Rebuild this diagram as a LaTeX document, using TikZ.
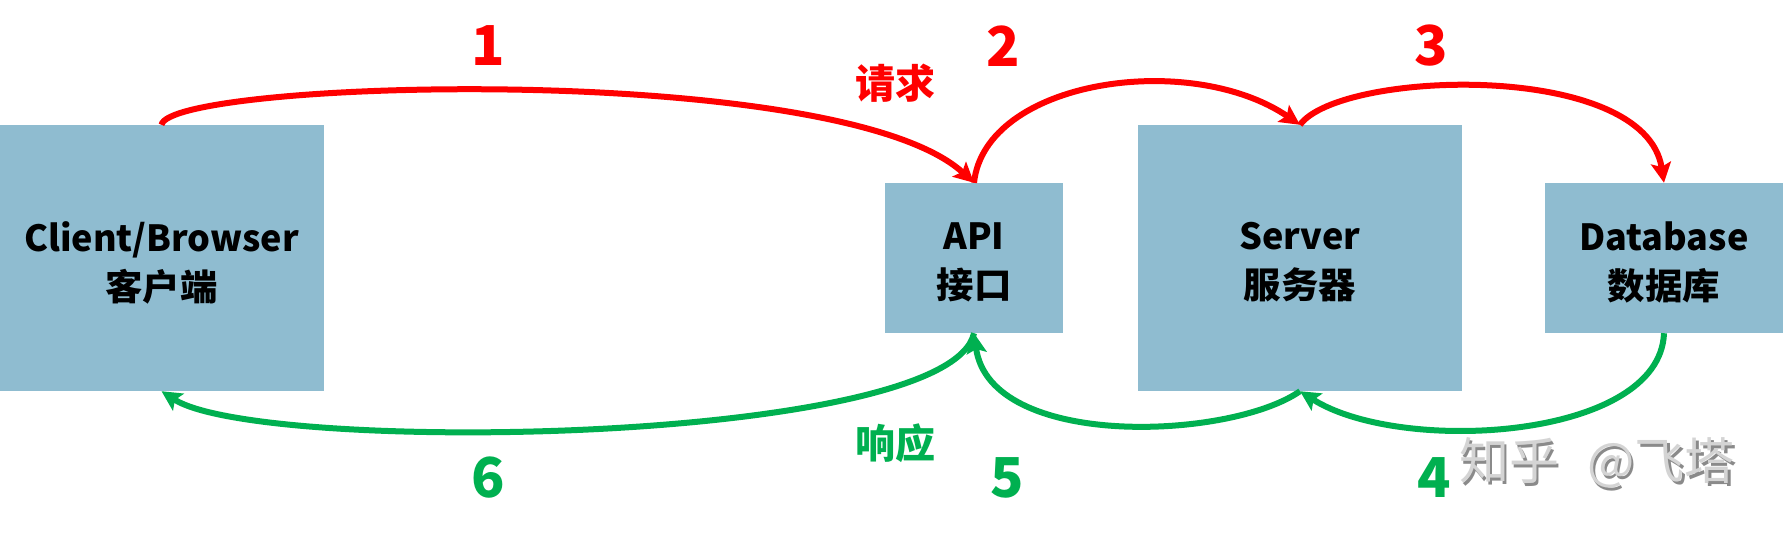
\documentclass[tikz,border=0pt]{standalone}
\usepackage{fontspec}
\usetikzlibrary{arrows.meta}
\newfontfamily\boxfont{Noto Sans CJK SC}[FakeStretch=1.04]
\newfontfamily\boxlat{Noto Sans CJK SC}
\newfontfamily\lblfont{Noto Sans CJK SC}
\newfontfamily\numfont{Noto Sans CJK SC}
\newfontfamily\wmfont{Noto Sans CJK SC}
\definecolor{boxblue}{HTML}{8FBCD0}
\definecolor{reqred}{HTML}{FF0000}
\definecolor{resgreen}{HTML}{00B050}
\definecolor{wmfront}{HTML}{D4D4D4}
\definecolor{wmback}{HTML}{8A8A8A}
\begin{document}
\begin{tikzpicture}[x=1pt,y=-1pt,
  block/.style={fill=boxblue, draw=none, inner sep=0pt},
  boxtext/.style={inner sep=0pt, align=center,
    font=\boxfont\bfseries\fontsize{36}{49}\selectfont},
  wide/.style={minimum width=324pt, minimum height=266pt},
  small/.style={minimum width=178pt, minimum height=150pt},
  req/.style={draw=reqred, line width=6pt, -{Stealth[length=20pt,width=20pt,inset=4pt]}},
  res/.style={draw=resgreen, line width=6pt, -{Stealth[length=20pt,width=20pt,inset=4pt]}},
  num/.style={font=\numfont\bfseries\fontsize{55}{55}\selectfont, inner sep=0pt},
  lbl/.style={font=\lblfont\bfseries\fontsize{40}{40}\selectfont, inner sep=0pt},
  wm/.style={font=\wmfont\fontsize{50}{50}\selectfont, inner sep=0pt},
]
\useasboundingbox (0,0) rectangle (1783,538);
\node[block, wide] (client) at (161.5,258) {};
\node[block, small] (api) at (974,258) {};
\node[block, wide] (server) at (1300,258) {};
\node[block, minimum width=238pt, minimum height=150pt] (db) at (1664,258) {};

\node[boxtext] (clienttxt) at ([yshift=-4.5pt]client.center) {{\boxlat Client/Browser}\\客户端};
\node[boxtext] (apitxt) at ([yshift=-4.5pt]api.center) {{\boxlat API}\\接口};
\node[boxtext] (servertxt) at ([yshift=-4.5pt]server.center) {{\boxlat Server}\\服务器};
\node[boxtext] (dbtxt) at ([yshift=-4.5pt]db.center) {{\boxlat Database}\\数据库};

% request arrows
\draw[req] (client.north) .. controls (170,80) and (840,60) .. (api.north);
\draw[req] (api.north) .. controls (985,80) and (1190,50) .. (server.north);
\draw[req] (server.north) .. controls (1340,70) and (1645,60) .. (db.north);
% response arrows
\draw[res] (db.south) .. controls (1660,440) and (1400,455) .. (server.south);
\draw[res] (server.south) .. controls (1230,440) and (990,450) .. (api.south);
\draw[res] (api.south) .. controls (950,445) and (260,455) .. (client.south);

% labels
\node[num, text=reqred] (n1) at (488,46) {1};
\node[num, text=reqred] (n2) at (1003,46) {2};
\node[num, text=reqred] (n3) at (1431,46) {3};
\node[num, text=resgreen] (n6) at (488,478) {6};
\node[num, text=resgreen] (n5) at (1007,478) {5};
\node[num, text=resgreen] (n4) at (1434,478) {4};
\node[lbl, text=reqred] (reqlbl) at (895,83) {请求};
\node[lbl, text=resgreen] (reslbl) at (895,443) {响应};

% watermark
\node[wm, text=wmback, anchor=west] (wmshadow) at (1461.5,465.5) {知乎\hspace{28pt}@飞塔};
\node[wm, text=wmfront, anchor=west] (wmtext) at (1459,463) {知乎\hspace{28pt}@飞塔};
\end{tikzpicture}
\end{document}
